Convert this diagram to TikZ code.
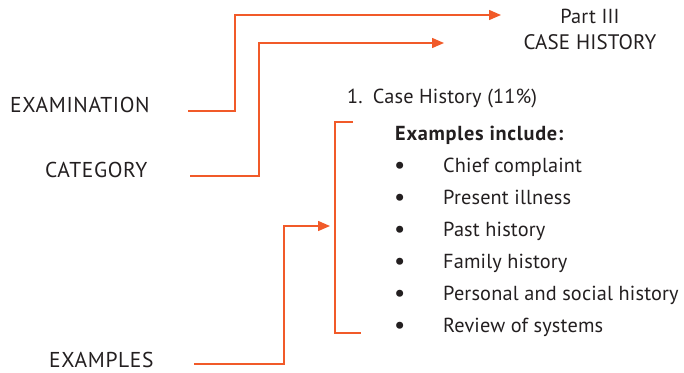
\documentclass[tikz,border=0pt]{standalone}
\usepackage{fontspec}
\setmainfont{PT Sans}
\newfontfamily\capsfont[LetterSpace=3]{PT Sans}
\newfontfamily\listfont[LetterSpace=0.8]{PT Sans}
\newfontfamily\boldfont[LetterSpace=3.5]{PT Sans Bold}
\usetikzlibrary{arrows.meta}
\definecolor{accent}{HTML}{F15A29}
\definecolor{ink}{HTML}{231F20}
\begin{document}
\begin{tikzpicture}[x=1pt,y=-1pt,
  lbl/.style={anchor=base west,inner sep=0pt,text=ink,text depth=0pt,font=\listfont\fontsize{20.3}{22}\selectfont},
  caps/.style={lbl,font=\capsfont\fontsize{21.5}{24}\selectfont},
  conn/.style={draw=accent,line width=1.5pt,-{Triangle[length=12pt,width=10pt]}},
  brk/.style={draw=accent,line width=1.5pt}]
\useasboundingbox (0,0) rectangle (684,372);
% titles
\node[lbl,anchor=base] (part) at (590,23) {Part III};
\node[lbl,anchor=base,font=\listfont\fontsize{21}{24}\selectfont] (case) at (590,49) {CASE HISTORY};
% left labels
\node[caps] (exam) at (10,112) {EXAMINATION};
\node[caps] (cat) at (45,177) {CATEGORY};
\node[caps] (exs) at (49,367) {EXAMPLES};
% item heading
\node[lbl] (item) at (347,103) {1.\enspace Case History (11\%)};
\node[lbl,font=\boldfont\fontsize{20.3}{22}\selectfont] (inc) at (395,140) {Examples include:};
% bullets
\foreach \t [count=\i] in {Chief complaint,Present illness,Past history,Family history,Personal and social history,Review of systems}{
  \node[lbl,font=\listfont\fontsize{25}{26}\selectfont] (b\i) at (394,{173.5+(\i-1)*32}) {\textbullet};
  \node[lbl] (t\i) at (443,{172+(\i-1)*32}) {\t};
}
% connector coordinates
\coordinate (e0) at (188,111);
\coordinate (e1) at (235,15);
\coordinate (e2) at (501,15);
\coordinate (c0) at (190,176);
\coordinate (c1) at (259,43);
\coordinate (c2) at (444,43);
\coordinate (x0) at (194,364);
\coordinate (x1) at (284,226);
\coordinate (x2) at (330,226);
\coordinate (k0) at (353,122);
\coordinate (k1) at (335,122);
\coordinate (k2) at (335,333);
\coordinate (k3) at (361,333);
\draw[conn] (e0) -| (e1) -- (e2);
\draw[conn] (c0) -| (c1) -- (c2);
\draw[conn] (x0) -| (x1) -- (x2);
\draw[brk] (k0) -- (k1) -- (k2) -- (k3);
\end{tikzpicture}
\end{document}
